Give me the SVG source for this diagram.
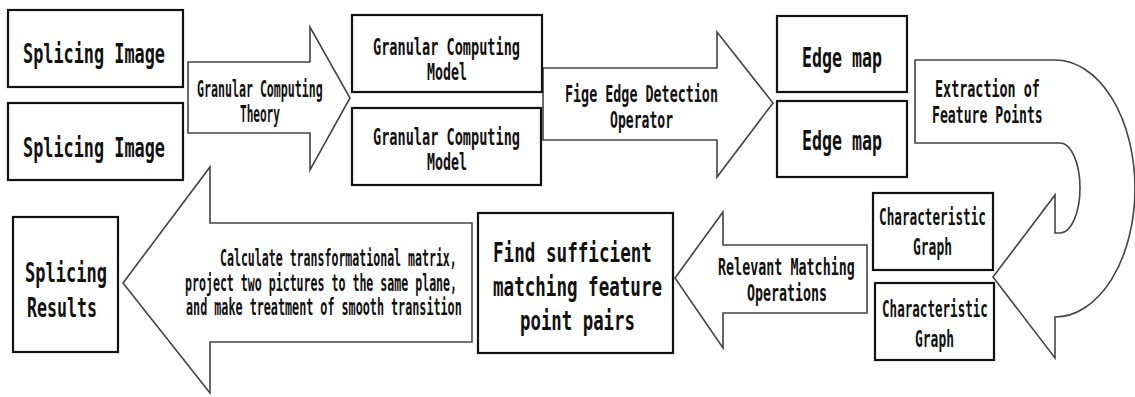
<svg xmlns="http://www.w3.org/2000/svg" width="1135" height="397" viewBox="0 0 1135 397">
<style>
.box{fill:#fff;stroke:#111;stroke-width:2.2}
.arr{fill:#fff;stroke:#444;stroke-width:1.6;stroke-linejoin:miter}
text{font-family:"DejaVu Sans Mono","Liberation Mono",monospace;font-weight:bold;fill:#111}
.L{font-size:27px}
.S{font-size:23px}
</style>
<rect width="1135" height="397" fill="#fff"/>
<g id="connectors">
<polygon class="arr" points="188,62 310,62 310,27 350,98 310,170 310,133 188,133"/>
<polygon class="arr" points="543,68 717,68 717,32 773,103 717,177 717,140 543,140"/>
<path class="arr" d="M915,60 H1055 A80,128.5 0 0 1 1055,317 V358 L993,277 L1055,195 V233 H1060 A20,45 0 0 0 1060,143 H915 Z"/>
<polygon class="arr" points="867,245 723,245 723,212 675,278 723,348 723,313 867,313"/>
<polygon class="arr" points="472,223 210,223 210,167 123,283 210,393 210,342 472,342"/>
</g>
<g id="arrow-labels">
<text class="S" transform="translate(197,97) scale(0.505,1)">Granular Computing</text>
<text class="S" transform="translate(240,122) scale(0.481,1)">Theory</text>
<text class="S" transform="translate(565,102) scale(0.582,1)">Fige Edge Detection</text>
<text class="S" transform="translate(610,128) scale(0.569,1)">Operator</text>
<text class="S" transform="translate(935,97) scale(0.583,1)">Extraction of</text>
<text class="S" transform="translate(932,123) scale(0.572,1)">Feature Points</text>
<text class="S" transform="translate(718,275) scale(0.582,1)">Relevant Matching</text>
<text class="S" transform="translate(747,301) scale(0.578,1)">Operations</text>
<text class="S" transform="translate(220,266) scale(0.503,1)">Calculate transformational matrix,</text>
<text class="S" transform="translate(185,291) scale(0.504,1)">project two pictures to the same plane,</text>
<text class="S" transform="translate(186,315) scale(0.511,1)">and make treatment of smooth transition</text>
</g>
<g id="splicing-image-1">
<rect class="box" x="8" y="10" width="175" height="77"/>
<text class="L" transform="translate(23,63) scale(0.624,1)">Splicing Image</text>
</g>
<g id="splicing-image-2">
<rect class="box" x="8" y="103" width="175" height="77"/>
<text class="L" transform="translate(23,157) scale(0.624,1)">Splicing Image</text>
</g>
<g id="gc-model-1">
<rect class="box" x="352" y="15" width="190" height="77"/>
<text class="S" transform="translate(373,55) scale(0.59,1)">Granular Computing</text>
<text class="S" transform="translate(427,80) scale(0.578,1)">Model</text>
</g>
<g id="gc-model-2">
<rect class="box" x="352" y="108" width="189" height="77"/>
<text class="S" transform="translate(373,145) scale(0.59,1)">Granular Computing</text>
<text class="S" transform="translate(427,170) scale(0.578,1)">Model</text>
</g>
<g id="edge-map-1">
<rect class="box" x="777" y="16" width="130" height="76"/>
<text class="L" transform="translate(802,67) scale(0.615,1)">Edge map</text>
</g>
<g id="edge-map-2">
<rect class="box" x="777" y="101" width="130" height="76"/>
<text class="L" transform="translate(802,150) scale(0.615,1)">Edge map</text>
</g>
<g id="char-graph-1">
<rect class="box" x="873" y="193" width="120" height="77"/>
<text class="S" transform="translate(879,225) scale(0.552,1)">Characteristic</text>
<text class="S" transform="translate(913,255) scale(0.563,1)">Graph</text>
</g>
<g id="char-graph-2">
<rect class="box" x="875" y="283" width="119" height="77"/>
<text class="S" transform="translate(882,317) scale(0.547,1)">Characteristic</text>
<text class="S" transform="translate(915,347) scale(0.563,1)">Graph</text>
</g>
<g id="find-pairs">
<rect class="box" x="478" y="213" width="195" height="140"/>
<text class="L" transform="translate(493,262) scale(0.652,1)">Find sufficient</text>
<text class="L" transform="translate(493,296) scale(0.65,1)">matching feature</text>
<text class="L" transform="translate(520,330) scale(0.643,1)">point pairs</text>
</g>
<g id="splicing-results">
<rect class="box" x="13" y="217" width="105" height="135"/>
<text class="L" transform="translate(25,282) scale(0.631,1)">Splicing</text>
<text class="L" transform="translate(27,317) scale(0.615,1)">Results</text>
</g>
</svg>
